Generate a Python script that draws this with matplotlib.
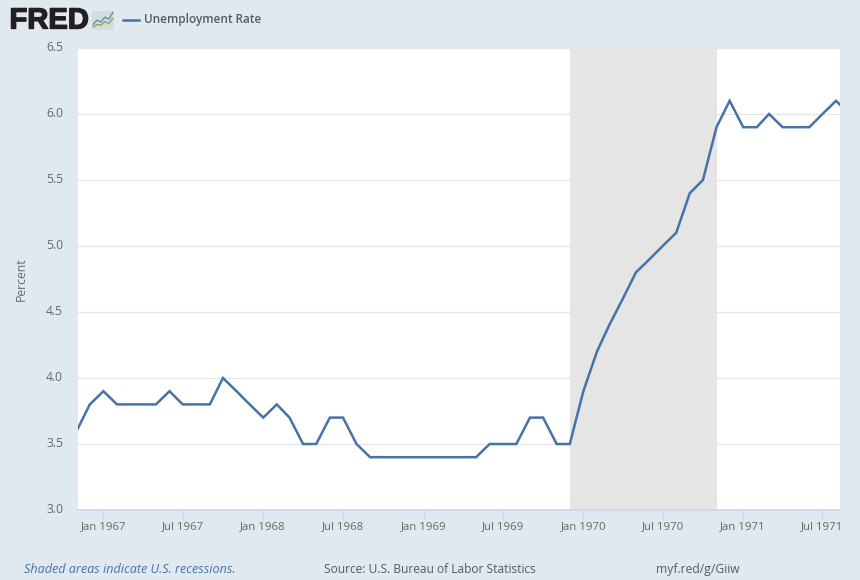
import matplotlib
matplotlib.use("Agg")
import matplotlib.pyplot as plt
import matplotlib.dates as mdates
import matplotlib.patheffects as pe
from matplotlib.transforms import ScaledTranslation
import pandas as pd

plt.rcParams['font.family'] = ['Open Sans', 'DejaVu Sans']

series_name = "Unemployment Rate"
start_month = "1966-11-01"
unemployment = [3.6, 3.8, 3.9, 3.8, 3.8, 3.8, 3.8, 3.9, 3.8, 3.8, 3.8, 4.0, 3.9, 3.8,
                3.7, 3.8, 3.7, 3.5, 3.5, 3.7, 3.7, 3.5, 3.4, 3.4, 3.4, 3.4,
                3.4, 3.4, 3.4, 3.4, 3.4, 3.5, 3.5, 3.5, 3.7, 3.7, 3.5, 3.5,
                3.9, 4.2, 4.4, 4.6, 4.8, 4.9, 5.0, 5.1, 5.4, 5.5, 5.9, 6.1,
                5.9, 5.9, 6.0, 5.9, 5.9, 5.9, 6.0, 6.1, 6.0]
recession = ["1969-12-01", "1970-11-01"]
y_ticks = [3.0, 3.5, 4.0, 4.5, 5.0, 5.5, 6.0, 6.5]
x_ticks = ["1967-01-01", "1967-07-01", "1968-01-01", "1968-07-01", "1969-01-01",
           "1969-07-01", "1970-01-01", "1970-07-01", "1971-01-01", "1971-07-01"]
x_range = ["1966-11-04", "1971-08-10"]

W, H = 860, 580
BG = "#E1E9F0"
LINE = "#4572A7"
GREY = "#595959"

fig = plt.figure(figsize=(W / 100, H / 100), dpi=100, facecolor=BG)
ax = fig.add_axes([78 / W, 1 - 510 / H, (840 - 78) / W, (510 - 48) / H])
ax.set_facecolor("white")

dates = pd.date_range(start_month, periods=len(unemployment), freq="MS")
ax.axvspan(pd.Timestamp(recession[0]), pd.Timestamp(recession[1]), color="#E5E5E5", lw=0, zorder=1)
ax.plot(dates, unemployment, color=LINE, lw=1.8, zorder=3, solid_joinstyle="miter")

ax.set_xlim(pd.Timestamp(x_range[0]), pd.Timestamp(x_range[1]))
ax.set_ylim(3.0, 6.5)
ax.set_yticks(y_ticks)
ax.set_yticklabels([f"{v:.1f}" for v in y_ticks])
ax.set_xticks([pd.Timestamp(d) for d in x_ticks])
ax.xaxis.set_major_formatter(mdates.DateFormatter("%b %Y"))
ax.grid(axis="y", color="#E6E6E6", lw=1, zorder=0)
ax.set_axisbelow(True)

for s in ("top", "left", "right"):
    ax.spines[s].set_visible(False)
ax.spines["bottom"].set_color("#CCD6EB")
ax.spines["bottom"].set_linewidth(1.2)
ax.tick_params(axis="y", length=0, labelsize=8.7, labelcolor="#666666", pad=10.7)
ax.tick_params(axis="x", length=7, width=1, color="#CCD6EB", labelsize=8.2,
               labelcolor="#666666", pad=1.2)
shift = ScaledTranslation(0, 2 / 100, fig.dpi_scale_trans)
for lab in ax.get_yticklabels():
    lab.set_transform(lab.get_transform() + shift)
ax.set_ylabel("Percent", fontsize=8.8, color="#666666", labelpad=12.8)

# header: logo and legend
fig.text(9.5 / W, 1 - 20.5 / H, "FRED", fontsize=21, fontweight="bold", color="#231F20",
         family=["Liberation Sans"], va="center", ha="left",
         path_effects=[pe.withStroke(linewidth=1.0, foreground="#231F20")])
icon = fig.add_axes([92 / W, 1 - 29.5 / H, 22 / W, 19 / H])
icon.set_facecolor("#D5DCDC")
icon.set_xticks([])
icon.set_yticks([])
for s in icon.spines.values():
    s.set_visible(False)
icon.set_xlim(0, 6)
icon.set_ylim(0, 6)
icon.plot([0.3, 1.4, 2.4, 3.5, 4.6, 5.7], [1.6, 3.0, 2.3, 3.9, 3.3, 5.4], color="#5B86B5", lw=0.9)
icon.plot([0.3, 1.4, 2.4, 3.5, 4.6, 5.7], [0.8, 1.6, 1.3, 2.5, 1.9, 3.5], color="#7FA650", lw=0.9)

fig.add_artist(plt.Line2D([123 / W, 139 / W], [1 - 19.5 / H] * 2, color=LINE, lw=1.8))
fig.text(144 / W, 1 - 19.5 / H, series_name, fontsize=8.45, color=GREY, fontweight="semibold",
         va="center", ha="left")

# footer
fig.text(24 / W, 1 - 569.5 / H, "Shaded areas indicate U.S. recessions.", fontsize=9.1,
         style="italic", color=LINE, va="center", ha="left")
fig.text(324 / W, 1 - 569.5 / H, "Source: U.S. Bureau of Labor Statistics", fontsize=8.62,
         color=GREY, va="center", ha="left")
fig.text(656 / W, 1 - 569.5 / H, "myf.red/g/Giiw", fontsize=8.7, color=GREY, va="center", ha="left")

fig.savefig("out.png", dpi=100, facecolor=BG)
